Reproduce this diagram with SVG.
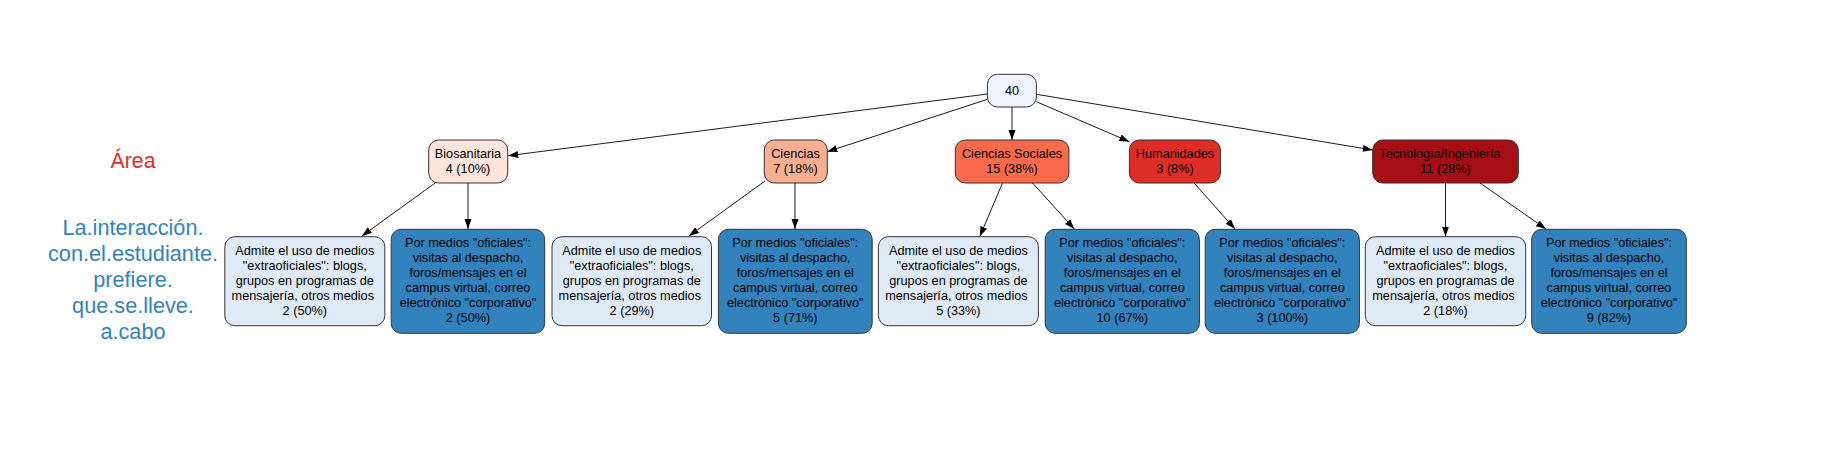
<svg xmlns="http://www.w3.org/2000/svg" width="1826" height="469" viewBox="0 0 1826 469">
<style>
.n{stroke:#333;stroke-width:1}
.t{font-family:"Liberation Sans",Arial,sans-serif;font-size:12.7px;fill:#000;text-anchor:middle}
.e{stroke:#000;stroke-width:0.9;fill:none;marker-end:url(#ah)}
.lab{font-family:"Liberation Sans",Arial,sans-serif;font-size:21.3px;text-anchor:middle}
.lt{fill:#deebf7}
.dk{fill:#3182bd}
</style>
<defs>
<marker id="ah" markerUnits="userSpaceOnUse" markerWidth="11" markerHeight="8" refX="10" refY="3.5" orient="auto">
<path d="M0,0 L10,3.5 L0,7 z" fill="#000"/>
</marker>
</defs>
<rect width="1826" height="469" fill="#fff"/>
<g id="labels">
<text class="lab" x="133" y="168" fill="#de2d26">Área</text>
<text class="lab" fill="#3182bd" style="font-size:21.7px"><tspan x="133" y="235">La.interacción.</tspan><tspan x="133" y="261">con.el.estudiante.</tspan><tspan x="133" y="287">prefiere.</tspan><tspan x="133" y="313">que.se.lleve.</tspan><tspan x="133" y="339">a.cabo</tspan></text>
</g>
<g id="edges">
<line class="e" x1="987.4" y1="94" x2="508.3" y2="155.7"/>
<line class="e" x1="987.4" y1="99.3" x2="827.3" y2="151.7"/>
<line class="e" x1="1012" y1="107" x2="1012" y2="140"/>
<line class="e" x1="1036.4" y1="101.7" x2="1129.4" y2="141.7"/>
<line class="e" x1="1036.4" y1="94.3" x2="1372.8" y2="150"/>
<line class="e" x1="435.6" y1="182.7" x2="361.8" y2="236"/>
<line class="e" x1="468" y1="183" x2="468" y2="229"/>
<line class="e" x1="765" y1="181" x2="689" y2="236"/>
<line class="e" x1="795" y1="183" x2="795" y2="229"/>
<line class="e" x1="1002.4" y1="183.3" x2="979.8" y2="236.5"/>
<line class="e" x1="1032.6" y1="183" x2="1074.3" y2="229"/>
<line class="e" x1="1194.1" y1="183" x2="1235" y2="229"/>
<line class="e" x1="1445.5" y1="183" x2="1445.5" y2="236.5"/>
<line class="e" x1="1480" y1="183" x2="1546" y2="229"/>
</g>
<g id="root">
<rect class="n" x="987.4" y="74.3" width="49" height="32.7" rx="10" fill="#eff3ff"/>
<text class="t" x="1012" y="95">40</text>
</g>
<g id="biosanitaria">
<rect class="n" x="428.7" y="140" width="79" height="43" rx="10" fill="#fee5d9"/>
<text class="t"><tspan x="468" y="158.3">Biosanitaria</tspan><tspan x="468" y="173.3">4 (10%)</tspan></text>
</g>
<g id="ciencias">
<rect class="n" x="764.3" y="140" width="63" height="43" rx="10" fill="#fcae91"/>
<text class="t"><tspan x="795.5" y="158.3">Ciencias</tspan><tspan x="795.5" y="173.3">7 (18%)</tspan></text>
</g>
<g id="ciencias-sociales">
<rect class="n" x="955.3" y="140" width="113.6" height="43" rx="10" fill="#fb6a4a"/>
<text class="t"><tspan x="1012" y="158.3">Ciencias Sociales</tspan><tspan x="1012" y="173.3">15 (38%)</tspan></text>
</g>
<g id="humanidades">
<rect class="n" x="1129.4" y="140" width="91" height="43" rx="10" fill="#de2d26"/>
<text class="t"><tspan x="1175" y="158.3">Humanidades</tspan><tspan x="1175" y="173.3">3 (8%)</tspan></text>
</g>
<g id="tecnologia">
<rect class="n" x="1372.7" y="140" width="145.6" height="43" rx="10" fill="#a50f15"/>
<text class="t"><tspan x="1440" y="158.3">Tecnología/Ingeniería</tspan><tspan x="1445.5" y="173.3">11 (28%)</tspan></text>
</g>
<g id="bio-extra">
<rect class="n lt" x="224.8" y="236.7" width="160" height="89" rx="10"/>
<text class="t"><tspan x="304.8" y="255.3">Admite el uso de medios</tspan><tspan x="304.8" y="270.3">"extraoficiales": blogs,</tspan><tspan x="304.8" y="285.3">grupos en programas de</tspan><tspan x="302.8" y="300.3">mensajería, otros medios</tspan><tspan x="304.8" y="315.3">2 (50%)</tspan></text>
</g>
<g id="bio-oficial">
<rect class="n dk" x="391.2" y="229.3" width="153.5" height="104" rx="10"/>
<text class="t"><tspan x="468" y="247.3">Por medios "oficiales":</tspan><tspan x="468" y="262.3">visitas al despacho,</tspan><tspan x="468" y="277.3">foros/mensajes en el</tspan><tspan x="468" y="292.3">campus virtual, correo</tspan><tspan x="468" y="307.3">electrónico "corporativo"</tspan><tspan x="468" y="322.3">2 (50%)</tspan></text>
</g>
<g id="cie-extra">
<rect class="n lt" x="552" y="236.7" width="159.5" height="89" rx="10"/>
<text class="t"><tspan x="631.8" y="255.3">Admite el uso de medios</tspan><tspan x="631.8" y="270.3">"extraoficiales": blogs,</tspan><tspan x="631.8" y="285.3">grupos en programas de</tspan><tspan x="629.8" y="300.3">mensajería, otros medios</tspan><tspan x="631.8" y="315.3">2 (29%)</tspan></text>
</g>
<g id="cie-oficial">
<rect class="n dk" x="718.4" y="229.3" width="153.8" height="104" rx="10"/>
<text class="t"><tspan x="795.3" y="247.3">Por medios "oficiales":</tspan><tspan x="795.3" y="262.3">visitas al despacho,</tspan><tspan x="795.3" y="277.3">foros/mensajes en el</tspan><tspan x="795.3" y="292.3">campus virtual, correo</tspan><tspan x="795.3" y="307.3">electrónico "corporativo"</tspan><tspan x="795.3" y="322.3">5 (71%)</tspan></text>
</g>
<g id="cs-extra">
<rect class="n lt" x="878.4" y="236.7" width="160" height="89" rx="10"/>
<text class="t"><tspan x="958.4" y="255.3">Admite el uso de medios</tspan><tspan x="958.4" y="270.3">"extraoficiales": blogs,</tspan><tspan x="958.4" y="285.3">grupos en programas de</tspan><tspan x="956.4" y="300.3">mensajería, otros medios</tspan><tspan x="958.4" y="315.3">5 (33%)</tspan></text>
</g>
<g id="cs-oficial">
<rect class="n dk" x="1045.2" y="229.3" width="154.2" height="104" rx="10"/>
<text class="t"><tspan x="1122.3" y="247.3">Por medios "oficiales":</tspan><tspan x="1122.3" y="262.3">visitas al despacho,</tspan><tspan x="1122.3" y="277.3">foros/mensajes en el</tspan><tspan x="1122.3" y="292.3">campus virtual, correo</tspan><tspan x="1122.3" y="307.3">electrónico "corporativo"</tspan><tspan x="1122.3" y="322.3">10 (67%)</tspan></text>
</g>
<g id="hum-oficial">
<rect class="n dk" x="1205.2" y="229.3" width="154.2" height="104" rx="10"/>
<text class="t"><tspan x="1282.3" y="247.3">Por medios "oficiales":</tspan><tspan x="1282.3" y="262.3">visitas al despacho,</tspan><tspan x="1282.3" y="277.3">foros/mensajes en el</tspan><tspan x="1282.3" y="292.3">campus virtual, correo</tspan><tspan x="1282.3" y="307.3">electrónico "corporativo"</tspan><tspan x="1282.3" y="322.3">3 (100%)</tspan></text>
</g>
<g id="tec-extra">
<rect class="n lt" x="1365.3" y="236.7" width="160.4" height="89" rx="10"/>
<text class="t"><tspan x="1445.5" y="255.3">Admite el uso de medios</tspan><tspan x="1445.5" y="270.3">"extraoficiales": blogs,</tspan><tspan x="1445.5" y="285.3">grupos en programas de</tspan><tspan x="1443.5" y="300.3">mensajería, otros medios</tspan><tspan x="1445.5" y="315.3">2 (18%)</tspan></text>
</g>
<g id="tec-oficial">
<rect class="n dk" x="1531.7" y="229.3" width="154.6" height="104" rx="10"/>
<text class="t"><tspan x="1609" y="247.3">Por medios "oficiales":</tspan><tspan x="1609" y="262.3">visitas al despacho,</tspan><tspan x="1609" y="277.3">foros/mensajes en el</tspan><tspan x="1609" y="292.3">campus virtual, correo</tspan><tspan x="1609" y="307.3">electrónico "corporativo"</tspan><tspan x="1609" y="322.3">9 (82%)</tspan></text>
</g>
</svg>
